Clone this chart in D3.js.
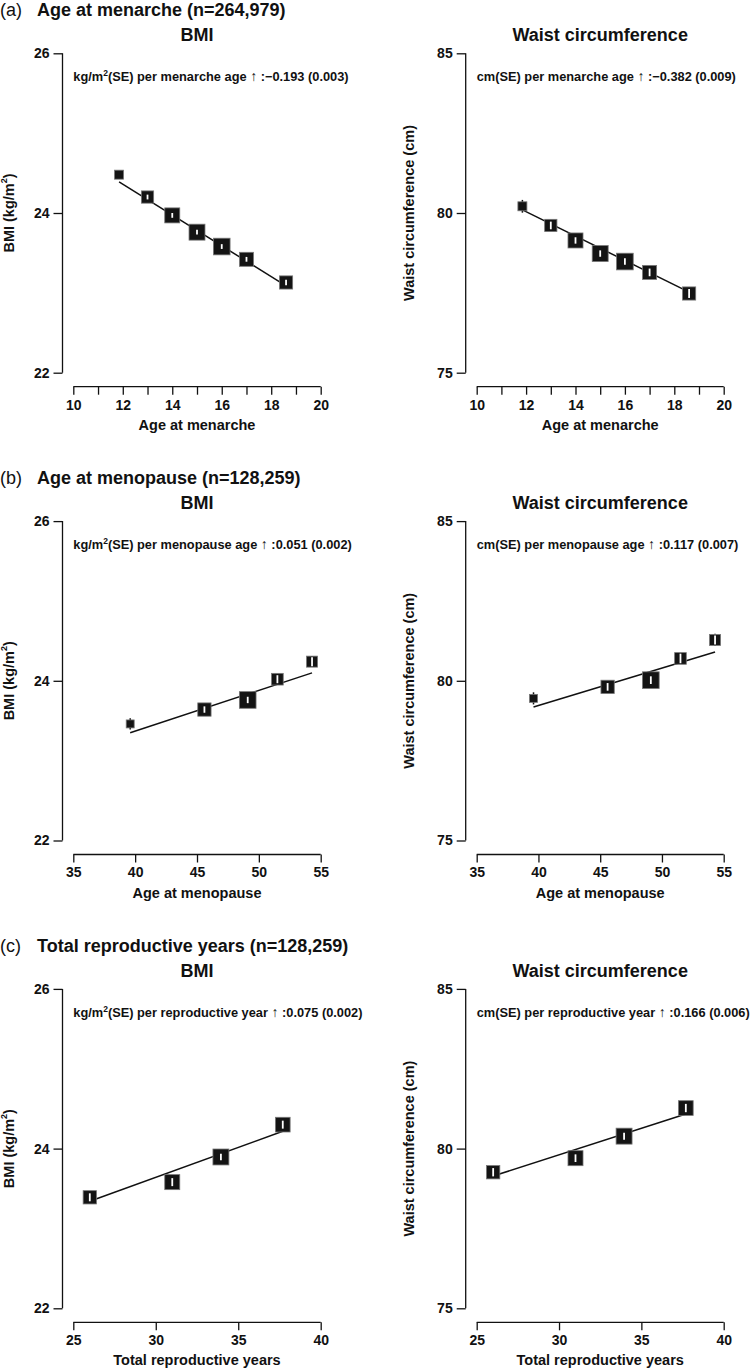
<!DOCTYPE html>
<html><head><meta charset="utf-8">
<script src="https://cdn.jsdelivr.net/npm/d3@7"></script>
<style>
html,body{margin:0;padding:0;background:#fff;}
svg{display:block;font-family:"Liberation Sans",Arial,Helvetica,sans-serif;}
</style></head>
<body>
<script>
// ---------------- DATA ----------------
const panelLetters = ["(a)", "(b)", "(c)"];
const panelTitles = ["Age at menarche (n=264,979)", "Age at menopause (n=128,259)", "Total reproductive years (n=128,259)"];
const xAxisTitles = ["Age at menarche", "Age at menopause", "Total reproductive years"];
const outcomeTitles = ["BMI", "Waist circumference"];
const exposureNames = ["menarche age", "menopause age", "reproductive year"];

const xDomains = [[10, 20], [35, 55], [25, 40]];
const xTickValues = [[10,11,12,13,14,15,16,17,18,19,20], [35,40,45,50,55], [25,30,35,40]];
const xTickLabelValues = [[10,12,14,16,18,20], [35,40,45,50,55], [25,30,35,40]];
const bmiDomain = [22, 26];
const bmiTicks = [22, 24, 26];
const waistDomain = [75, 85];
const waistTicks = [75, 80, 85];

// (a) age at menarche
const menarcheAge = [11.85, 13, 14, 15, 16, 17, 18.6];
const menarcheBMI = [24.48, 24.20, 23.97, 23.76, 23.58, 23.42, 23.13];
const menarcheBMIci = [0.04, 0.03, 0.03, 0.03, 0.03, 0.03, 0.035];
const menarcheWaist = [80.21, 79.61, 79.14, 78.73, 78.48, 78.14, 77.48];
const menarcheWaistCI = [0.2, 0.12, 0.1, 0.1, 0.1, 0.12, 0.14];
const menarcheWeight = [7, 13, 19.5, 22, 24, 17, 15];

// (b) age at menopause
const menopauseAge = [39.6, 45.6, 49.1, 51.5, 54.3];
const menopauseBMI = [23.46, 23.64, 23.76, 24.02, 24.24];
const menopauseBMIci = [0.07, 0.04, 0.04, 0.05, 0.06];
const menopauseWaist = [79.45, 79.81, 80.02, 80.70, 81.28];
const menopauseWaistCI = [0.19, 0.12, 0.12, 0.15, 0.19];
const menopauseWeight = [5.5, 15.3, 24, 11.8, 10.5];

// (c) total reproductive years
const reproYears = [26.0, 31.0, 33.95, 37.7];
const reproBMI = [23.39, 23.58, 23.895, 24.30];
const reproBMIci = [0.05, 0.05, 0.04, 0.05];
const reproWaist = [79.26, 79.70, 80.39, 81.27];
const reproWaistCI = [0.13, 0.12, 0.11, 0.13];
const reproWeight = [15.3, 19.5, 22, 18.7];

// regression: slope (SE) per unit and fitted value at first category
const bmiSlopes = [-0.193, 0.051, 0.075];
const bmiSlopeSE = ["0.003", "0.002", "0.002"];
const bmiFitStart = [24.39, 23.35, 23.34];
const waistSlopes = [-0.382, 0.117, 0.166];
const waistSlopeSE = ["0.009", "0.007", "0.006"];
const waistFitStart = [80.10, 79.18, 79.14];

// ---------------- LAYOUT ----------------
const W = 750, H = 1368;
const svg = d3.select("body").append("svg").attr("width", W).attr("height", H);
svg.append("rect").attr("width", W).attr("height", H).attr("fill", "#fff");

const cols = [{axisX: 62.5, x0: 73.3, x1: 320.7, yTitleX: 9}, {axisX: 465.7, x0: 476.7, x1: 723.7, yTitleX: 409}];
const rowStep = 467.8;
const base = {header: 16, sub: 41, top: 53.3, bottom: 372.7, xAxisY: 386.7, note: 81};
const ink = "#111";

const xs = [menarcheAge, menopauseAge, reproYears];
const bmis = [menarcheBMI, menopauseBMI, reproBMI];
const bmiCIs = [menarcheBMIci, menopauseBMIci, reproBMIci];
const waists = [menarcheWaist, menopauseWaist, reproWaist];
const waistCIs = [menarcheWaistCI, menopauseWaistCI, reproWaistCI];
const weights = [menarcheWeight, menopauseWeight, reproWeight];

const sizeScale = d3.scaleSqrt().domain([0, 25]).range([0, 17]);

function fmtSlope(v) { return (v < 0 ? "\u2212" : "") + Math.abs(v).toFixed(3); }

for (let r = 0; r < 3; r++) {
  const off = r * rowStep;
  const g = svg.append("g");
  // header
  const ht = g.append("text").attr("x", 0).attr("y", base.header + off).attr("fill", ink);
  ht.append("tspan").attr("font-size", 18).attr("font-weight", "normal").text(panelLetters[r]);
  ht.append("tspan").attr("x", 37).attr("font-size", 18).attr("font-weight", "bold").text(panelTitles[r]);

  for (let c = 0; c < 2; c++) {
    const col = cols[c];
    const isBMI = c === 0;
    const yDom = isBMI ? bmiDomain : waistDomain;
    const yTicks = isBMI ? bmiTicks : waistTicks;
    const yVals = isBMI ? bmis[r] : waists[r];
    const ciVals = isBMI ? bmiCIs[r] : waistCIs[r];
    const slope = isBMI ? bmiSlopes[r] : waistSlopes[r];
    const se = isBMI ? bmiSlopeSE[r] : waistSlopeSE[r];
    const fit0 = isBMI ? bmiFitStart[r] : waistFitStart[r];
    const xv = xs[r];

    const x = d3.scaleLinear().domain(xDomains[r]).range([col.x0, col.x1]);
    const y = d3.scaleLinear().domain(yDom).range([base.bottom + off, base.top + off]);
    const pg = g.append("g");

    // subplot title
    pg.append("text").attr("x", (col.x0 + col.x1) / 2).attr("y", base.sub + off)
      .attr("text-anchor", "middle").attr("font-size", 18).attr("font-weight", "bold")
      .attr("fill", ink).text(outcomeTitles[c]);

    // y axis
    const ya = pg.append("g").attr("transform", `translate(${col.axisX},0)`)
      .call(d3.axisLeft(y).tickValues(yTicks).tickFormat(d3.format("d")).tickSize(9).tickPadding(4));
    ya.select(".domain").attr("d", `M0,${y(yDom[0])}V${y(yDom[1])}`);
    ya.selectAll("path,line").attr("stroke", ink).attr("stroke-width", 1.3);
    ya.selectAll("text").attr("font-size", 14).attr("font-weight", "bold").attr("fill", ink)
      .attr("font-family", "Liberation Sans, Arial, sans-serif");

    // x axis
    const labelSet = new Set(xTickLabelValues[r]);
    const xa = pg.append("g").attr("transform", `translate(0,${base.xAxisY + off})`)
      .call(d3.axisBottom(x).tickValues(xTickValues[r]).tickFormat(d => labelSet.has(d) ? d : "").tickSize(8).tickPadding(5));
    xa.select(".domain").attr("d", `M${x(xDomains[r][0])},0H${x(xDomains[r][1])}`);
    xa.selectAll("path,line").attr("stroke", ink).attr("stroke-width", 1.3);
    xa.selectAll("text").attr("font-size", 14).attr("font-weight", "bold").attr("fill", ink)
      .attr("font-family", "Liberation Sans, Arial, sans-serif");

    // x title
    pg.append("text").attr("x", (col.x0 + col.x1) / 2).attr("y", base.xAxisY + off + 43)
      .attr("text-anchor", "middle").attr("font-size", 14.5).attr("font-weight", "bold")
      .attr("fill", ink).text(xAxisTitles[r]);

    // y title
    const yt = pg.append("text")
      .attr("transform", `translate(${col.yTitleX},${(base.top + base.bottom) / 2 + off}) rotate(-90)`)
      .attr("text-anchor", "middle").attr("dominant-baseline", "central")
      .attr("font-size", 14.5).attr("font-weight", "bold").attr("fill", ink);
    if (isBMI) {
      yt.append("tspan").text("BMI (kg/m");
      yt.append("tspan").attr("font-size", 9).attr("dy", -5).text("2");
      yt.append("tspan").attr("dy", 5).text(")");
    } else {
      yt.text("Waist circumference (cm)");
    }

    // annotation
    const nt = pg.append("text").attr("x", col.x0).attr("y", base.note + off)
      .attr("font-size", 12.8).attr("font-weight", "bold").attr("fill", ink);
    if (isBMI) {
      nt.append("tspan").text("kg/m");
      nt.append("tspan").attr("font-size", 8.5).attr("dy", -5).text("2");
      nt.append("tspan").attr("dy", 5).text("(SE) per " + exposureNames[r] + " ");
    } else {
      nt.append("tspan").text("cm(SE) per " + exposureNames[r] + " ");
    }
    nt.append("tspan").attr("font-weight", "normal").attr("font-size", 14).text("\u2191");
    nt.append("tspan").text(" :" + fmtSlope(slope) + " (" + se + ")");

    // fit line
    const x0v = xv[0], x1v = xv[xv.length - 1];
    const lineData = [[x0v, fit0], [x1v, fit0 + slope * (x1v - x0v)]];
    pg.append("path").attr("d", d3.line().x(d => x(d[0])).y(d => y(d[1]))(lineData))
      .attr("stroke", ink).attr("stroke-width", 1.5).attr("fill", "none");

    // points
    const pts = xv.map((xx, i) => ({x: xx, y: yVals[i], ci: ciVals[i], w: weights[r][i]}));
    const pgp = pg.append("g");
    pgp.selectAll("line.ci").data(pts).join("line").attr("class", "ci")
      .attr("x1", d => x(d.x)).attr("x2", d => x(d.x))
      .attr("y1", d => y(d.y - d.ci)).attr("y2", d => y(d.y + d.ci))
      .attr("stroke", ink).attr("stroke-width", 1.5);
    pgp.selectAll("rect").data(pts).join("rect")
      .attr("x", d => x(d.x) - sizeScale(d.w) / 2).attr("y", d => y(d.y) - sizeScale(d.w) / 2)
      .attr("width", d => sizeScale(d.w)).attr("height", d => sizeScale(d.w))
      .attr("fill", "#141414").attr("stroke", "#777").attr("stroke-width", 0.8);
    pgp.selectAll("line.wci").data(pts.filter(d => sizeScale(d.w) >= 10.5)).join("line").attr("class", "wci")
      .attr("x1", d => x(d.x)).attr("x2", d => x(d.x))
      .attr("y1", d => Math.min(y(d.y - d.ci), y(d.y) + sizeScale(d.w) / 2 - 1))
      .attr("y2", d => Math.max(y(d.y + d.ci), y(d.y) - sizeScale(d.w) / 2 + 1))
      .attr("stroke", "#fff").attr("stroke-width", 1.8);
  }
}
</script>
</body></html>
